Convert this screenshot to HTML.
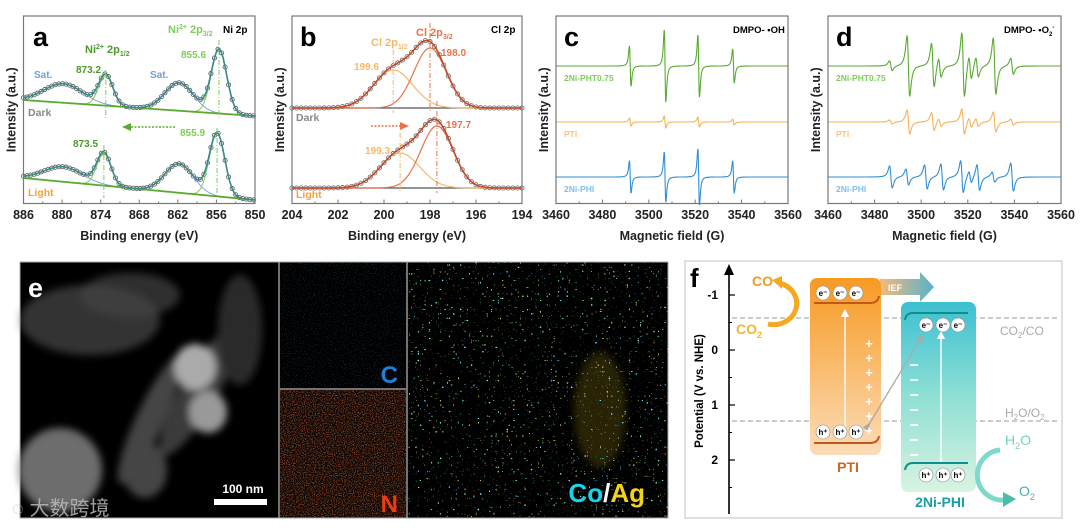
<!DOCTYPE html>
<html><head><meta charset="utf-8"><style>
html,body{margin:0;padding:0;background:#fff;}
svg{display:block;font-family:"Liberation Sans",Arial,sans-serif;}
</style></head><body>
<svg id="fig" width="1080" height="528" viewBox="0 0 1080 528" xmlns="http://www.w3.org/2000/svg">
<defs>
<linearGradient id="gPTI" x1="0" y1="0" x2="0" y2="1"><stop offset="0" stop-color="#f79a22"/><stop offset="1" stop-color="#fcdcb8"/></linearGradient>
<linearGradient id="gPHI" x1="0" y1="0" x2="0" y2="1"><stop offset="0" stop-color="#3cbfd2"/><stop offset="0.5" stop-color="#8fe0d4"/><stop offset="1" stop-color="#d8f3e2"/></linearGradient>
<linearGradient id="gIEF" x1="0" y1="0" x2="1" y2="0"><stop offset="0" stop-color="#f6b97a"/><stop offset="1" stop-color="#55b3c9"/></linearGradient>
<filter id="noiseC" x="0" y="0" width="100%" height="100%"><feTurbulence type="fractalNoise" baseFrequency="0.9" numOctaves="2" seed="3"/><feColorMatrix type="matrix" values="0 0 0 0 0.1  0 0 0 0 0.45  0 0 0 0 0.9  0 0 0 1.3 -0.75"/></filter>
<filter id="noiseN" x="0" y="0" width="100%" height="100%"><feTurbulence type="fractalNoise" baseFrequency="0.9" numOctaves="2" seed="7"/><feColorMatrix type="matrix" values="0 0 0 0 0.85  0 0 0 0 0.18  0 0 0 0 0.06  0 0 0 1.8 -0.75"/></filter>
<filter id="noiseCo" x="0" y="0" width="100%" height="100%"><feTurbulence type="fractalNoise" baseFrequency="0.45" numOctaves="1" seed="11"/><feColorMatrix type="matrix" values="0 0 0 0 0.1  0 0 0 0 0.85  0 0 0 0 0.9  0 0 0 18 -12.6"/></filter>
<filter id="noiseAg" x="0" y="0" width="100%" height="100%"><feTurbulence type="fractalNoise" baseFrequency="0.45" numOctaves="1" seed="23"/><feColorMatrix type="matrix" values="0 0 0 0 0.95  0 0 0 0 0.8  0 0 0 0 0.1  0 0 0 18 -12.8"/></filter>
<filter id="blur4"><feGaussianBlur stdDeviation="4"/></filter>
<marker id="arrG" markerWidth="6" markerHeight="6" refX="3" refY="3" orient="auto"><path d="M0,0 L6,3 L0,6 z" fill="#aaa"/></marker>
<marker id="arrW" markerWidth="6" markerHeight="6" refX="3" refY="3" orient="auto"><path d="M0,0 L6,3 L0,6 z" fill="#fff"/></marker>
</defs>
<g id="charts"></g>

<!-- Panel e -->
<g>
  <rect x="20" y="262" width="648" height="256" fill="#000"/>
  <g filter="url(#blur4)">
    <ellipse cx="90" cy="320" rx="70" ry="35" fill="#555" opacity="0.6"/>
    <ellipse cx="60" cy="470" rx="42" ry="42" fill="#888" opacity="0.8"/>
    <ellipse cx="200" cy="390" rx="18" ry="75" fill="#3a3a3a" transform="rotate(30 200 390)"/>
    <ellipse cx="150" cy="420" rx="14" ry="70" fill="#444" transform="rotate(25 150 420)"/>
    <ellipse cx="195" cy="367" rx="21" ry="23" fill="#aaa"/>
    <ellipse cx="208" cy="412" rx="19" ry="21" fill="#999"/>
    <ellipse cx="130" cy="295" rx="50" ry="22" fill="#444" opacity="0.7"/>
    <ellipse cx="240" cy="330" rx="22" ry="55" fill="#2a2a2a"/>
    <ellipse cx="145" cy="470" rx="22" ry="28" fill="#444"/>
  </g>
  <text x="28" y="297" font-size="27" font-weight="bold" fill="#fff">e</text>
  <text x="243" y="493" font-size="12" font-weight="bold" fill="#fff" text-anchor="middle">100 nm</text>
  <rect x="214" y="499" width="53" height="6" fill="#fff"/>
  <text x="12" y="515" font-size="20" fill="#bbb" opacity="0.85" font-family="'Liberation Sans','Noto Sans CJK SC',sans-serif">◌ 大数跨境</text>
  <rect x="280" y="262" width="126" height="126" fill="#000"/>
  <rect x="280" y="262" width="126" height="126" filter="url(#noiseC)"/>
  <rect x="280" y="390" width="126" height="128" fill="#000"/>
  <rect x="280" y="390" width="126" height="128" filter="url(#noiseN)"/>
  <line x1="279" y1="262" x2="279" y2="518" stroke="#999" stroke-width="1.5"/>
  <line x1="407" y1="262" x2="407" y2="518" stroke="#999" stroke-width="1.5"/>
  <line x1="280" y1="389" x2="406" y2="389" stroke="#999" stroke-width="1.5"/>
  <text x="398" y="383" font-size="24" font-weight="bold" fill="#1f7fd6" text-anchor="end">C</text>
  <text x="398" y="512" font-size="24" font-weight="bold" fill="#ee3b12" text-anchor="end">N</text>
  <rect x="408" y="262" width="260" height="256" fill="#000"/>
  <rect x="408" y="262" width="260" height="256" filter="url(#noiseCo)"/>
  <rect x="408" y="262" width="260" height="256" filter="url(#noiseAg)" opacity="0.8"/>
  <ellipse cx="600" cy="410" rx="26" ry="58" fill="#e0c020" opacity="0.18" filter="url(#blur4)"/>
  <text x="645" y="502" font-size="26" font-weight="bold" text-anchor="end"><tspan fill="#19d3e6">Co</tspan><tspan fill="#fff">/</tspan><tspan fill="#f3d21a">Ag</tspan></text>
  <rect x="20" y="262" width="648" height="256" fill="none" stroke="#aaa" stroke-width="1"/>
</g>

<!-- Panel f -->
<g>
  <rect x="685" y="261" width="377" height="257" fill="#fff" stroke="#ccc" stroke-width="1.2"/>
  <text x="690" y="287" font-size="26" font-weight="bold">f</text>
  <line x1="729" y1="514" x2="729" y2="270" stroke="#000" stroke-width="1.6"/>
  <path d="M724,275 L729,264 L734,275 z" fill="#000"/>
  <g id="fTicks"></g>
  <text transform="translate(703,391) rotate(-90)" font-size="11.5" font-weight="bold" text-anchor="middle">Potential (V vs. NHE)</text>
  <line x1="732" y1="318" x2="1060" y2="318" stroke="#999" stroke-width="1" stroke-dasharray="5,3"/>
  <line x1="732" y1="421" x2="1060" y2="421" stroke="#999" stroke-width="1" stroke-dasharray="5,3"/>
  <text x="1000" y="335" font-size="12" fill="#aaa">CO<tspan font-size="8" dy="3">2</tspan><tspan dy="-3">/CO</tspan></text>
  <text x="1005" y="417" font-size="12" fill="#aaa">H<tspan font-size="8" dy="3">2</tspan><tspan dy="-3">O/O</tspan><tspan font-size="8" dy="3">2</tspan></text>
  <path d="M880,279 L920,279 L920,272 L934,287 L920,302 L920,295 L880,295 z" fill="url(#gIEF)"/>
  <text x="888" y="291" font-size="9" fill="#fff" font-weight="bold">IEF</text>
  <rect x="810" y="278" width="71" height="177" rx="7" fill="url(#gPTI)"/>
  <rect x="901" y="302" width="75" height="190" rx="7" fill="url(#gPHI)"/>
  <path d="M814,303 L870,303 Q878,303 879,296" stroke="#c0581a" stroke-width="2" fill="none"/>
  <path d="M814,443 L870,443 Q878,443 879,436" stroke="#c0581a" stroke-width="2" fill="none"/>
  <path d="M905,320 Q906,313 913,313 L968,313" stroke="#0f8f86" stroke-width="2" fill="none"/>
  <path d="M905,470 Q906,463 913,463 L968,463" stroke="#0f8f86" stroke-width="2" fill="none"/>
  <line x1="845" y1="437" x2="845" y2="313" stroke="#fff" stroke-width="1.4" marker-end="url(#arrW)"/>
  <line x1="941" y1="462" x2="941" y2="335" stroke="#fff" stroke-width="1.4" marker-end="url(#arrW)"/>
  <line x1="868" y1="426" x2="921" y2="338" stroke="#aaa" stroke-width="1.3" marker-start="url(#arrG)" marker-end="url(#arrG)"/>
  <g id="carriers" font-size="8" font-weight="bold" text-anchor="middle"></g>
  <text x="848" y="472" font-size="14" font-weight="bold" fill="#d0671e" text-anchor="middle">PTI</text>
  <text x="940" y="507" font-size="14" font-weight="bold" fill="#1a9ea6" text-anchor="middle">2Ni-PHI</text>
  <path d="M768,324 A22,20 0 0 0 779,283" stroke="#f7a820" stroke-width="5" fill="none"/>
  <path d="M772,280 L782,276 L782,289 z" fill="#f7a820"/>
  <text x="752" y="286" font-size="14" font-weight="bold" fill="#f29a1e">CO</text>
  <text x="736" y="334" font-size="14" font-weight="bold" fill="#f5b62a">CO<tspan font-size="9" dy="4">2</tspan></text>
  <path d="M1000,450 A25,25 0 0 0 1005,500" stroke="#7fd9c8" stroke-width="5" fill="none"/>
  <path d="M1003,492 L1016,499 L1003,507 z" fill="#4cbcae"/>
  <text x="1005" y="445" font-size="14" fill="#6fd3c0">H<tspan font-size="9" dy="4">2</tspan><tspan dy="-4">O</tspan></text>
  <text x="1019" y="496" font-size="14" fill="#43b2a6">O<tspan font-size="9" dy="4">2</tspan></text>
</g>
</svg>
<script>
const NS="http://www.w3.org/2000/svg";
function mk(tag,attrs,parent){const e=document.createElementNS(NS,tag);for(const k in attrs)e.setAttribute(k,attrs[k]);(parent||document.getElementById('charts')).appendChild(e);return e;}
function txt(x,y,s,attrs,parent){const e=mk('text',Object.assign({x:x,y:y},attrs),parent);e.textContent=s;return e;}

// ===== Panel a data (Ni 2p XPS) =====
const aCenters=[879.8,873.2,861.8,855.6];
const aDarkHeights=[19,30,28,64];
const aLightCenters=[879.8,873.5,861.8,855.9];
const aLightHeights=[15,32,29,63];
const aSigmas=[3.0,1.1,2.2,1.2];
const aDarkBg=[100,116];
const aLightBg=[178,200];
const aTicks=[886,880,874,868,862,856,850];
// ===== Panel b data (Cl 2p) =====
const bDarkCenters=[199.6,198.0];
const bDarkHeights=[38,60];
const bLightCenters=[199.3,197.7];
const bLightHeights=[35,62];
const bSigmas=[0.85,0.7];
const bDarkBase=108, bLightBase=188;
const bTicks=[204,202,200,198,196,194];
// ===== Panel c data (DMPO-OH) =====
const cLines=[3492,3507,3521.5,3536.5];
const cGreenAmp=[20,36,31,17];
const cOrangeAmp=[4,6,5,3];
const cBlueAmp=[16,25,28,16];
const cBases=[66,122,177];
const eprTicks=[3460,3480,3500,3520,3540,3560];
// ===== Panel d data (DMPO-O2) =====
const dGreenLines=[3487,3494.5,3505,3508,3518,3521,3524,3531.5,3539];
const dGreenAmp=[5,30,22,10,32,12,10,28,8];
const dOrangeAmp=[2,12,9,4,13,5,4,10,3];
const dBlueLines=[3487,3494,3502,3509,3517.5,3521,3524.5,3531,3539];
const dBlueAmp=[11,8,12,13,16,6,13,5,14];
const dBases=[66,122,177];
// ===== Panel f data =====
const fTicks=[-1,0,1,2];

function g(x,c,s){return Math.exp(-(x-c)*(x-c)/(2*s*s));}
function deriv(x,c,w){const u=(x-c)/w;return -2*u/Math.pow(1+u*u,2)/0.6495;}
function lin(d0,d1,r0,r1){return v=>r0+(v-d0)*(r1-r0)/(d1-d0);}

function frame(x0,x1,y0,y1,ticks,sx,name,xlabel){
  mk('rect',{x:x0,y:y0,width:x1-x0,height:y1-y0,fill:'none',stroke:'#777','stroke-width':1.2,});
  ticks.forEach((t,i)=>{const x=sx(t);mk('line',{x1:x,y1:y1,x2:x,y2:y1-4,stroke:'#777','stroke-width':1});
    if(i<ticks.length-1){const xm=(x+sx(ticks[i+1]))/2;mk('line',{x1:xm,y1:y1,x2:xm,y2:y1-2,stroke:'#777','stroke-width':1});}
    const e=txt(x,219,String(t),{'font-size':12.5,'font-weight':'bold','text-anchor':'middle',fill:'#222'});
    
    
  });
  const xl=txt((x0+x1)/2,240,xlabel,{'font-size':12.5,'font-weight':'bold','text-anchor':'middle',fill:'#222'});
  
  
  const yl=txt(0,0,'Intensity (a.u.)',{'font-size':12.5,'font-weight':'bold','text-anchor':'middle',fill:'#222',transform:'translate('+(x0-8)+','+((y0+y1)/2)+') rotate(-90)'});
  
  
}
function pathFrom(xs,fx,fy){return xs.map((v,i)=>(i?'L':'M')+fx(v).toFixed(1)+','+fy(v).toFixed(1)).join(' ');}
function range(a,b,step){const r=[];if(a<b){for(let v=a;v<=b+1e-9;v+=step)r.push(v);}else{for(let v=a;v>=b-1e-9;v-=step)r.push(v);}return r;}

// ---------- Panel a ----------
(function(){
  const sx=lin(886,850,23.5,255);
  const xs=range(886,850,0.15);
  function draw(centers,heights,bg,tag){
    const base=v=>bg[0]+(886-v)/(36)*(bg[1]-bg[0]);
    const tot=v=>{let s=0;centers.forEach((c,i)=>s+=heights[i]*g(v,c,aSigmas[i]));return base(v)-s;};
    range(886,850,0.55).forEach(v=>{const c=mk('circle',{cx:sx(v),cy:tot(v),r:2.1,fill:'none',stroke:'#555','stroke-width':0.8});
      
      });
    centers.forEach((c,i)=>{const col=(i===0||i===2)?'#7ea6e0':'#7ccd5a';
      const p=mk('path',{d:pathFrom(xs,sx,v=>base(v)-heights[i]*g(v,c,aSigmas[i])),stroke:col,fill:'none','stroke-width':1});
      
      });
    const b=mk('path',{d:pathFrom(xs,sx,base),stroke:'#5aaa30',fill:'none','stroke-width':1.8});
    
    
    const f=mk('path',{d:pathFrom(xs,sx,tot),stroke:'#2f7fc4',fill:'none','stroke-width':1.6});
    
    
    mk('path',{d:pathFrom(xs,sx,tot),stroke:'#4a9a2a',fill:'none','stroke-width':0.8,opacity:0.7});
  }
  draw(aCenters,aDarkHeights,aDarkBg,'dark');
  draw(aLightCenters,aLightHeights,aLightBg,'light');
  [[873.2,70,120],[855.6,40,120],[873.5,145,198],[855.9,128,198]].forEach(r=>mk('line',{x1:sx(r[0]),y1:r[1],x2:sx(r[0]),y2:r[2],stroke:'#7ccd5a','stroke-width':1,'stroke-dasharray':'5,2,1,2'}));
  frame(23.5,255,16,203.5,aTicks,sx,'ni2p','Binding energy (eV)');
  txt(33,46,'a',{'font-size':27,'font-weight':'bold'});
  txt(223,33,'Ni 2p',{'font-size':10,'font-weight':'bold'});
  txt(168,33,'',{'font-size':11,'font-weight':'bold',fill:'#7ccd5a'}).innerHTML='Ni<tspan font-size="7" dy="-4">2+</tspan><tspan dy="4"> 2p</tspan><tspan font-size="7" dy="3">3/2</tspan>';
  txt(85,53,'',{'font-size':11,'font-weight':'bold',fill:'#4a9a2a'}).innerHTML='Ni<tspan font-size="7" dy="-4">2+</tspan><tspan dy="4"> 2p</tspan><tspan font-size="7" dy="3">1/2</tspan>';
  txt(181,58,'855.6',{'font-size':10,'font-weight':'bold',fill:'#7ccd5a'});
  txt(76,73,'873.2',{'font-size':10,'font-weight':'bold',fill:'#4a9a2a'});
  txt(34,78,'Sat.',{'font-size':10,'font-weight':'bold',fill:'#6f9fdc'});
  txt(150,78,'Sat.',{'font-size':10,'font-weight':'bold',fill:'#6f9fdc'});
  txt(28,116,'Dark',{'font-size':10.5,'font-weight':'bold',fill:'#888'});
  txt(180,136,'855.9',{'font-size':10,'font-weight':'bold',fill:'#7ccd5a'});
  txt(73,147,'873.5',{'font-size':10,'font-weight':'bold',fill:'#4a9a2a'});
  txt(28,196,'Light',{'font-size':10.5,'font-weight':'bold',fill:'#f2a33a'});
  mk('line',{x1:175,y1:127,x2:128,y2:127,stroke:'#5aaa30','stroke-width':1.4,'stroke-dasharray':'2,1.5'});
  mk('path',{d:'M122,127 L131,123 L131,131 z',fill:'#5aaa30'});
})();

// ---------- Panel b ----------
(function(){
  const sx=lin(204,194,292,522);
  const xs=range(204,194,0.05);
  function draw(centers,heights,base,tag){
    const tot=v=>{let s=0;centers.forEach((c,i)=>s+=heights[i]*g(v,c,bSigmas[i]));return base-s;};
    range(204,194,0.2).forEach(v=>{const c=mk('circle',{cx:sx(v),cy:tot(v),r:2.1,fill:'none',stroke:'#666','stroke-width':0.8});
      
      });
    mk('line',{x1:292,y1:base,x2:522,y2:base,stroke:'#555','stroke-width':1.2});
    const cols=['#f7b86a','#e8734a'];
    centers.forEach((c,i)=>{const p=mk('path',{d:pathFrom(xs,sx,v=>base-heights[i]*g(v,c,bSigmas[i])),stroke:cols[i],fill:'none','stroke-width':1.2});
      
      });
    const f=mk('path',{d:pathFrom(xs,sx,tot),stroke:'#c24a2a',fill:'none','stroke-width':1.6});
    
    
    mk('line',{x1:sx(centers[0]),y1:base-heights[0]-20,x2:sx(centers[0]),y2:base+5,stroke:cols[0],'stroke-width':1,'stroke-dasharray':'5,2,1,2'});
    mk('line',{x1:sx(centers[1]),y1:base-heights[1]-25,x2:sx(centers[1]),y2:base+5,stroke:cols[1],'stroke-width':1,'stroke-dasharray':'5,2,1,2'});
  }
  draw(bDarkCenters,bDarkHeights,bDarkBase,'dark');
  draw(bLightCenters,bLightHeights,bLightBase,'light');
  frame(292,522,16,203.5,bTicks,sx,'cl2p','Binding energy (eV)');
  txt(300,46,'b',{'font-size':27,'font-weight':'bold'});
  txt(491,33,'Cl 2p',{'font-size':10,'font-weight':'bold'});
  txt(416,36,'',{'font-size':11,'font-weight':'bold',fill:'#e8734a'}).innerHTML='Cl 2p<tspan font-size="7" dy="3">3/2</tspan>';
  txt(371,46,'',{'font-size':11,'font-weight':'bold',fill:'#f7b86a'}).innerHTML='Cl 2p<tspan font-size="7" dy="3">1/2</tspan>';
  txt(441,56,'198.0',{'font-size':10,'font-weight':'bold',fill:'#e8734a'});
  txt(354,70,'199.6',{'font-size':10,'font-weight':'bold',fill:'#f7b86a'});
  txt(296,121,'Dark',{'font-size':10.5,'font-weight':'bold',fill:'#888'});
  txt(446,128,'197.7',{'font-size':10,'font-weight':'bold',fill:'#e8734a'});
  txt(365,154,'199.3',{'font-size':10,'font-weight':'bold',fill:'#f7b86a'});
  txt(296,198,'Light',{'font-size':10.5,'font-weight':'bold',fill:'#f2a33a'});
  mk('line',{x1:371,y1:126,x2:402,y2:126,stroke:'#e8734a','stroke-width':1.4,'stroke-dasharray':'2,1.5'});
  mk('path',{d:'M409,126 L400,122 L400,130 z',fill:'#e8734a'});
})();

// ---------- EPR panels ----------
function epr(x0,x1,lineSets,name,panelLetter,sampleLabels,w){
  const sx=lin(3460,3560,x0,x1);
  const xs=range(3460,3560,0.1);
  const cols=['#5aaa30','#f7b35a','#2f8fd8'];
  lineSets.forEach((set,k)=>{
    const y=v=>{let s=0;set.lines.forEach((c,i)=>s+=set.amp[i]*deriv(v,c,w));return set.base-s;};
    const p=mk('path',{d:pathFrom(xs,sx,y),stroke:cols[k],fill:'none','stroke-width':1.1});
    
    
    const cl=['#7ccd5a','#f9c48a','#7fc0ee'][k];
    txt(x0+8,set.base+15,sampleLabels[k],{'font-size':8.5,'font-weight':'bold',fill:cl});
  });
  frame(x0,x1,16,203.5,eprTicks,sx,name,'Magnetic field (G)');
  txt(x0+8,46,panelLetter,{'font-size':27,'font-weight':'bold'});
}
epr(556,788,[{lines:cLines,amp:cGreenAmp,base:cBases[0]},{lines:cLines,amp:cOrangeAmp,base:cBases[1]},{lines:cLines,amp:cBlueAmp,base:cBases[2]}],'epr-oh','c',['2Ni-PHT0.75','PTI','2Ni-PHI'],0.6);
txt(733,33,'DMPO- •OH',{'font-size':9.5,'font-weight':'bold'});
epr(828,1061,[{lines:dGreenLines,amp:dGreenAmp,base:dBases[0]},{lines:dGreenLines,amp:dOrangeAmp,base:dBases[1]},{lines:dBlueLines,amp:dBlueAmp,base:dBases[2]}],'epr-o2','d',['2Ni-PHT0.75','PTI','2Ni-PHI'],1.0);
txt(1004,33,'',{'font-size':9.5,'font-weight':'bold'}).innerHTML='DMPO- •O<tspan font-size="6" dy="3">2</tspan><tspan font-size="6" dy="-7">-</tspan>';

// ---------- Panel f ticks ----------
(function(){
  const sy=lin(-1,2,295,460);
  const par=document.getElementById('fTicks');
  fTicks.forEach(t=>{
    mk('line',{x1:729,y1:sy(t),x2:735,y2:sy(t),stroke:'#000','stroke-width':1.2},par);
    const e=txt(718,sy(t)+4,String(t),{'font-size':12,'font-weight':'bold','text-anchor':'end'},par);
    
    
  });
  [-0.5,0.5,1.5,2.5].forEach(t=>mk('line',{x1:729,y1:sy(t),x2:732,y2:sy(t),stroke:'#000','stroke-width':1},par));
  const car=document.getElementById('carriers');
  function circ(x,y,s){mk('circle',{cx:x,cy:y,r:7,fill:'#fff',stroke:'#888','stroke-width':0.6},car);txt(x,y+3,s,{},car);}
  [823,840,856].forEach(x=>circ(x,293,'e⁻'));
  [823,840,856].forEach(x=>circ(x,432,'h⁺'));
  [926,943,958].forEach(x=>circ(x,325,'e⁻'));
  [926,943,958].forEach(x=>circ(x,475,'h⁺'));
  for(let i=0;i<7;i++){txt(869,348+i*14.5,'+',{'font-size':13,'font-weight':'bold',fill:'#fff','text-anchor':'middle'},car);}
  for(let i=0;i<7;i++){mk('line',{x1:910,y1:365+i*15,x2:918,y2:365+i*15,stroke:'#fff','stroke-width':1.8},car);}
})();
</script>
</body></html>
